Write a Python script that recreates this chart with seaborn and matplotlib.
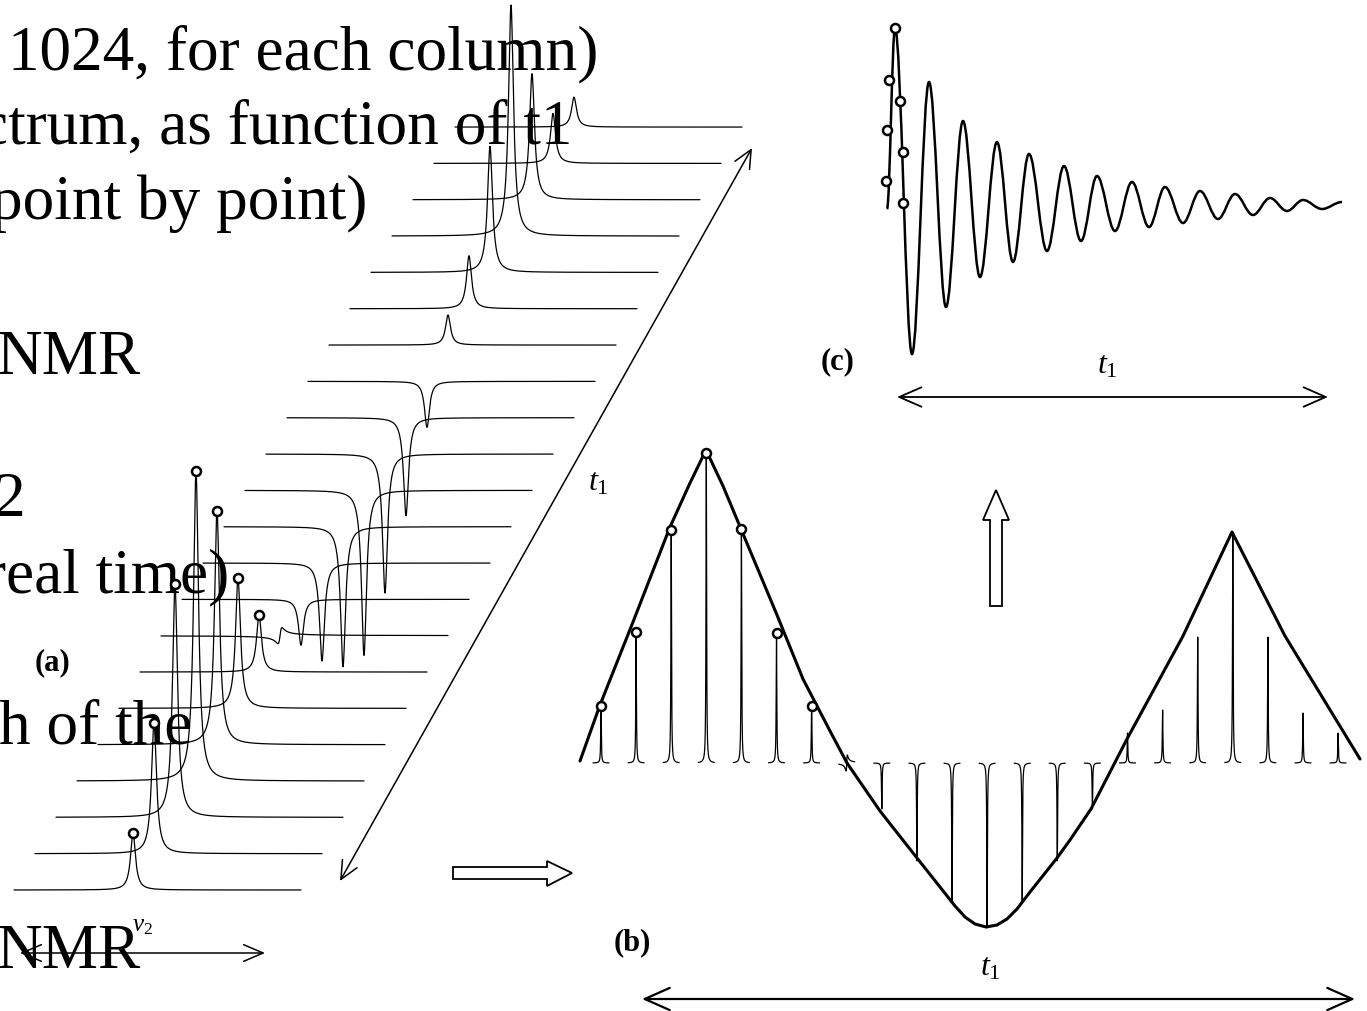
import numpy as np
import pandas as pd
import matplotlib
matplotlib.use("Agg")
import matplotlib.pyplot as plt
from matplotlib.patches import FancyArrowPatch, Polygon, PathPatch
from matplotlib.path import Path
import seaborn as sns

# ---------------------------------------------------------------- data
# amplitude of the peak in each t1 increment (row 0 = first increment)
peak_heights = [57, 131, 233, 310, 234, 130, 57, 0, -46, -98, -140, -165,
                -139, -98, -46, 30, 53, 126, 231, 126, 50, 30]
# small dispersive residue left where the absorptive signal crosses zero
dispersive = [0, 0, 0, 0, 0, 0, 0, 8, 0, 0, 0, 0, 0, 0, 0, 0, 0, 0, 0, 0, 0, 0]
# increments marked with a circle
marked_rows = [0, 1, 2, 3, 4, 5, 6]

# (b) envelope traced through the stems
env_x = [580, 600, 633, 670, 690, 706, 723, 741, 777, 803, 830, 847, 880, 917,
         940, 955, 965, 975, 986, 997, 1007, 1017, 1030, 1057, 1070, 1091,
         1127, 1183, 1232, 1285, 1360]
env_y = [762, 706, 623, 528, 484, 451, 487, 530, 616, 680, 732, 764, 812, 859,
         888, 907, 918, 925, 928, 926, 920, 910, 893, 859, 841, 810,
         740, 637, 533, 637, 760]

# (c) interferogram: successive extrema of the decaying oscillation
fid_x = [887, 895, 912, 929, 946, 963, 980, 997, 1013, 1029, 1047, 1064, 1081,
         1097, 1115, 1132, 1149, 1165, 1183, 1200, 1218, 1235, 1253, 1270,
         1287, 1303, 1322, 1342]
fid_y = [210, 29, 355, 83, 308, 122, 278, 143, 263, 155, 252, 167, 242,
         177, 232, 183, 228, 188, 224, 192, 220, 195, 216, 199,
         212, 201, 210, 203]
fid_mark_x = [886, 887, 889, 895, 900, 903, 903]
fid_mark_y = [182, 131, 81, 29, 102, 153, 204]

# slide text running behind the drawing
slide_text = ["1024, for each column)", "ctrum, as function of t1",
              "point by point)", "NMR", "2", "real time)", "h of the", "NMR"]

# ---------------------------------------------------------------- layout
W, H = 1367, 1012
ROW0_Y, ROW_DY = 891.0, 36.33
ROW0_XL, ROW_DX, ROW_W, PEAK_OFF = 14.0, 21.0, 287.0, 119.0
STEM_X0, STEM_DX, STEM_BASE = 601.0, 35.1, 764.0
TEXT_RIGHT = [598, 572, 367, 140, 25, 229, 192, 140]
TEXT_BASE = [69, 144, 219, 374, 516, 592, 744, 968]

sns.set_theme(style="white")
plt.rcParams["font.family"] = ["Liberation Serif", "DejaVu Serif"]
plt.rcParams["text.color"] = "black"
plt.rcParams["mathtext.fontset"] = "custom"
plt.rcParams["mathtext.rm"] = "Liberation Serif"
plt.rcParams["mathtext.it"] = "Liberation Serif:italic"
plt.rcParams["mathtext.bf"] = "Liberation Serif:bold"

fig = plt.figure(figsize=(W / 100, H / 100), dpi=100, facecolor="white")
ax = fig.add_axes([0, 0, 1, 1])
ax.set_xlim(0, W)
ax.set_ylim(H, 0)
ax.axis("off")


def lorentz(d, w):
    return w * w / (d * d + w * w)


def dispersion(d, w):
    return 2 * w * d / (d * d + w * w)


# background slide text
for s, xr, yb in zip(slide_text, TEXT_RIGHT, TEXT_BASE):
    ax.text(xr, yb, s, ha="right", va="baseline", fontsize=45.5,
            color="black", zorder=1)

# (a) stacked 1D spectra, one per t1 increment
frames = []
mark_x, mark_y = [], []
for i, (h, d) in enumerate(zip(peak_heights, dispersive)):
    y0 = ROW0_Y - ROW_DY * i
    xl = ROW0_XL + ROW_DX * i
    xp = xl + PEAK_OFF
    xs = np.linspace(xl, xl + ROW_W, 1600)
    ys = y0 - h * lorentz(xs - xp, 3.0) - d * dispersion(xs - xp, 2.0)
    frames.append(pd.DataFrame({"x": xs, "y": ys, "row": i}))
    if i in marked_rows:
        mark_x.append(xp)
        mark_y.append(y0 - h)
rows_df = pd.concat(frames, ignore_index=True)
sns.lineplot(data=rows_df, x="x", y="y", units="row", estimator=None,
             sort=False, color="black", linewidth=0.9, legend=False, ax=ax,
             zorder=3)

# (b) one stick per increment, taken from the peak amplitude
stems = []
for k, (h, d) in enumerate(zip(peak_heights, dispersive)):
    xc = STEM_X0 + STEM_DX * k
    xs = np.linspace(xc - 8, xc + 8, 800)
    ys = STEM_BASE - h * lorentz(xs - xc, 0.35) - d * dispersion(xs - xc, 0.6)
    stems.append(pd.DataFrame({"x": xs, "y": ys, "k": k}))
stems_df = pd.concat(stems, ignore_index=True)
sns.lineplot(data=stems_df, x="x", y="y", units="k", estimator=None,
             sort=False, color="black", linewidth=0.9, legend=False, ax=ax,
             zorder=3)
sns.lineplot(x=env_x, y=env_y, sort=False, estimator=None, color="black",
             linewidth=2.2, ax=ax, zorder=4)
stem_mark_x = [STEM_X0 + STEM_DX * k for k in marked_rows]
stem_mark_y = [STEM_BASE - peak_heights[k] for k in marked_rows]

# (c) decaying oscillation drawn as half-wave curves between extrema
verts = [(fid_x[0], fid_y[0])]
codes = [Path.MOVETO]
for x0, y0, x1, y1 in zip(fid_x[:-1], fid_y[:-1], fid_x[1:], fid_y[1:]):
    dx = x1 - x0
    verts += [(x0 + 0.36 * dx, y0), (x1 - 0.36 * dx, y1), (x1, y1)]
    codes += [Path.CURVE4] * 3
ax.add_patch(PathPatch(Path(verts, codes), fill=False, edgecolor="black",
                       linewidth=1.8, zorder=4))

# sample circles
circ_x = mark_x + stem_mark_x + fid_mark_x
circ_y = mark_y + stem_mark_y + fid_mark_y
sns.scatterplot(x=circ_x, y=circ_y, s=42, color="white", edgecolor="black",
                linewidth=1.8, ax=ax, zorder=6, legend=False)


# arrows
def line_arrow(p0, p1, lw=1.1, style="<->", hl=13, hw=6):
    ax.add_patch(FancyArrowPatch(p0, p1,
                                 arrowstyle=f"{style},head_length={hl},head_width={hw}",
                                 mutation_scale=1, linewidth=lw, color="black",
                                 shrinkA=0, shrinkB=0, zorder=5))


line_arrow((340, 882), (752, 149))
line_arrow((20, 954), (265, 954), hl=14, hw=6)
line_arrow((897, 398), (1328, 398), lw=1.3, hl=16, hw=7)
line_arrow((642, 1000), (1355, 1000), lw=1.6, hl=18, hw=8)

right_block = [(453, 868), (547, 868), (547, 862), (572, 874), (547, 887),
               (547, 880), (453, 880)]
up_block = [(990, 607), (990, 521), (983, 521), (996, 491), (1009, 521),
            (1002, 521), (1002, 607)]
for pts in (right_block, up_block):
    ax.add_patch(Polygon(pts, closed=True, fill=False, edgecolor="black",
                         linewidth=1.3, zorder=5))

# labels
ax.text(53, 663, "(a)", fontsize=22, fontweight="bold", ha="center",
        va="center", color="black", zorder=2)
ax.text(632, 943, "(b)", fontsize=22, fontweight="bold", ha="center",
        va="center", color="black", zorder=2)
ax.text(838, 362, "(c)", fontsize=22, fontweight="bold", ha="center",
        va="center", color="black", zorder=2)
for (tx, ty) in [(598, 483), (990, 968), (1107, 366)]:
    ax.text(tx, ty, r"$t_1$", fontsize=23, ha="center", va="center",
            color="black", zorder=2)
ax.text(142, 926, r"$\nu_2$", fontsize=18, ha="center", va="center",
        color="black", zorder=2)

fig.savefig("out.png", dpi=100, facecolor="white")
